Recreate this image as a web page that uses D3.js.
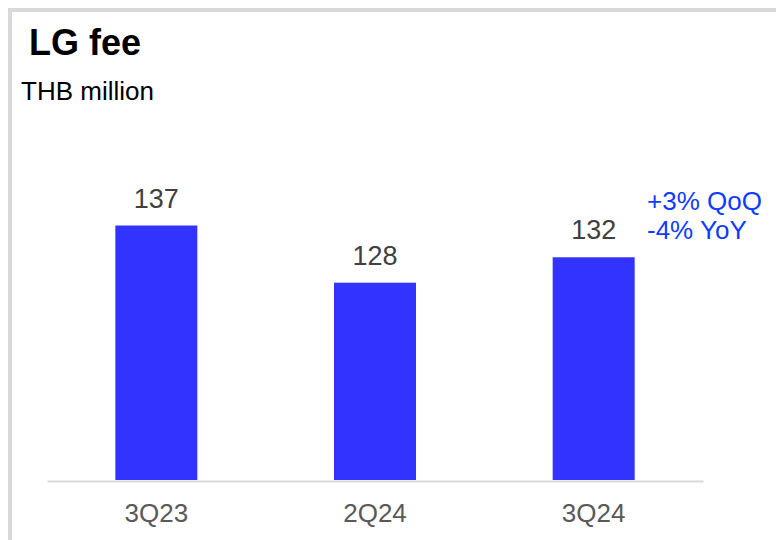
<!DOCTYPE html>
<html>
<head>
<meta charset="utf-8">
<script src="https://cdn.jsdelivr.net/npm/d3@7"></script>
<style>
  html, body { margin: 0; padding: 0; background: #fff; }
  svg { display: block; font-family: "Liberation Sans", Arial, sans-serif; }
</style>
</head>
<body>
<svg id="chart" width="776" height="540"></svg>
<script>
// LG fee by quarter, THB million
const categories = ["3Q23", "2Q24", "3Q24"];
const values = [137, 128, 132];
const changeNotes = ["+3% QoQ", "-4% YoY"];

const svg = d3.select("#chart");

// Panel frame: top and left rules
svg.append("rect").attr("x", 8).attr("y", 8).attr("width", 768).attr("height", 4).attr("fill", "#d9d9d9");
svg.append("rect").attr("x", 8).attr("y", 8).attr("width", 4).attr("height", 532).attr("fill", "#d9d9d9");

// Title and unit
svg.append("text").attr("x", 29).attr("y", 55)
  .attr("font-size", 36).attr("font-weight", "bold").attr("fill", "#000")
  .text("LG fee");
svg.append("text").attr("x", 21).attr("y", 100)
  .attr("font-size", 26).attr("fill", "#000")
  .text("THB million");

// Scales
const x = d3.scaleBand()
  .domain(categories)
  .range([47, 703])
  .paddingInner(0.625)
  .paddingOuter(0.3125);

const y = d3.scaleLinear()
  .domain([96.95, 137])
  .range([480, 225.5]);

// Bars
svg.append("g").selectAll("rect")
  .data(values)
  .join("rect")
  .attr("x", (d, i) => x(categories[i]))
  .attr("y", d => y(d))
  .attr("width", x.bandwidth())
  .attr("height", d => y.range()[0] - y(d))
  .attr("fill", "#3333ff");

// Value labels
svg.append("g").selectAll("text")
  .data(values)
  .join("text")
  .attr("x", (d, i) => x(categories[i]) + x.bandwidth() / 2)
  .attr("y", d => y(d) - 18)
  .attr("text-anchor", "middle")
  .attr("font-size", 27)
  .attr("fill", "#404040")
  .text(d => d);

// Category axis
const axis = svg.append("g").attr("transform", "translate(0,481)")
  .call(d3.axisBottom(x).tickSize(0).tickPadding(41));
axis.select(".domain").attr("stroke", "#d9d9d9").attr("stroke-width", 2);
axis.selectAll(".tick text")
  .attr("font-size", 26)
  .attr("font-family", "\"Liberation Sans\", Arial, sans-serif")
  .attr("fill", "#595959")
  .attr("dy", "0");

// Change annotation beside the latest bar
svg.append("g").selectAll("text")
  .data(changeNotes)
  .join("text")
  .attr("x", 647)
  .attr("y", (d, i) => 210 + i * 29)
  .attr("font-size", 26)
  .attr("fill", "#0f3cff")
  .text(d => d);
</script>
</body>
</html>
